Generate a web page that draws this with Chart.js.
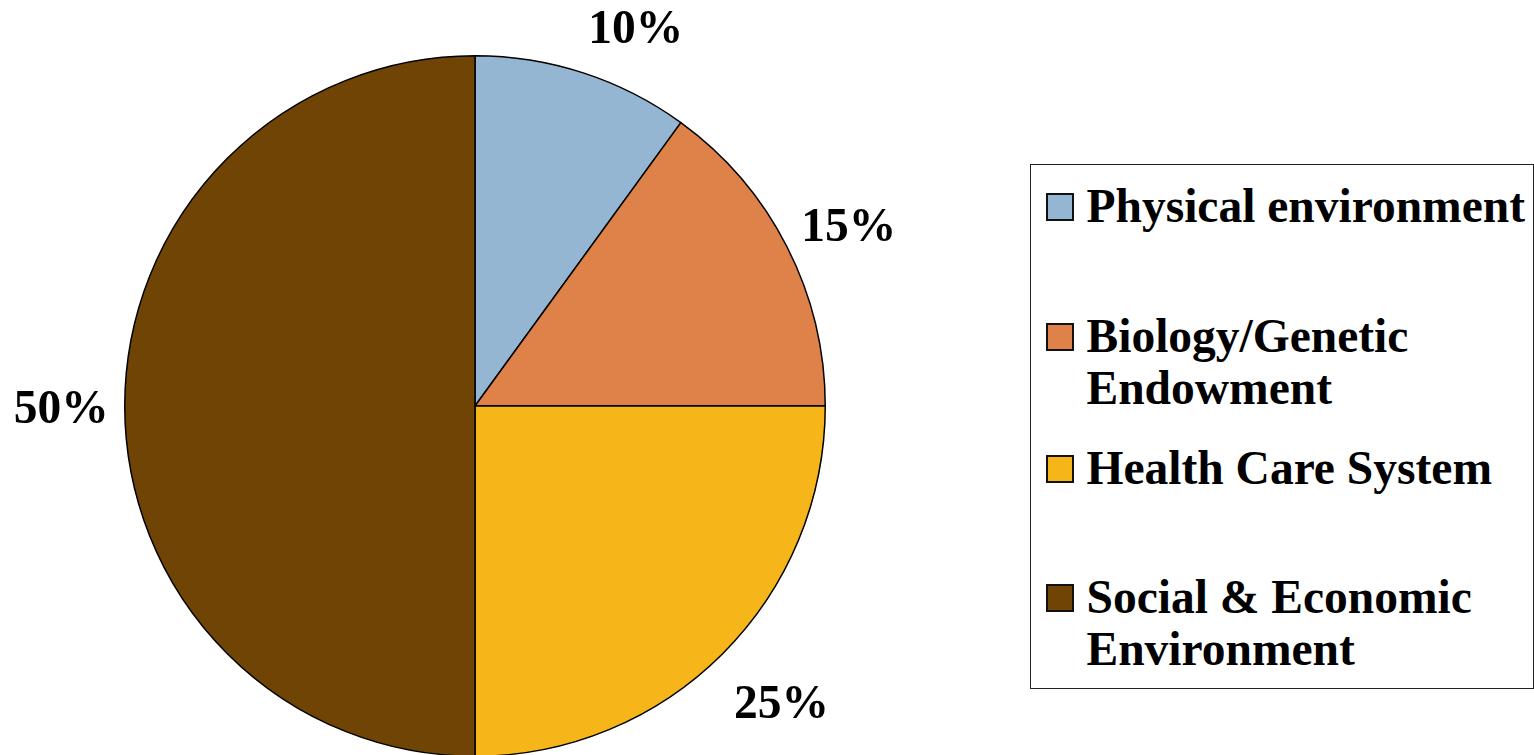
<!DOCTYPE html>
<html>
<head>
<meta charset="utf-8">
<script src="https://cdn.jsdelivr.net/npm/chart.js@4.4.1/dist/chart.umd.min.js"></script>
<style>
  html, body { margin: 0; padding: 0; background: #fff; overflow: hidden; width: 1534px; height: 755px; }
  #wrap { position: absolute; left: 0; top: 0; width: 950px; height: 770px; }
  #legend { position: absolute; left: 1030px; top: 164px; width: 504px; height: 525px; box-sizing: border-box; border: 1.5px solid #222; background: #fff; }
  .lg-sq { position: absolute; width: 28px; height: 28px; box-sizing: border-box; border: 2px solid #111; }
  .lg-tx { position: absolute; font-family: "Liberation Serif", "Times New Roman", serif; font-weight: bold; font-size: 47.5px; line-height: 52px; color: #000; white-space: nowrap; }
</style>
</head>
<body>
<div id="wrap"><canvas id="c" width="950" height="770"></canvas></div>
<div id="legend"></div>
<script>
// ---- data ----
const categories = ["Physical environment", "Biology/Genetic Endowment", "Health Care System", "Social & Economic Environment"];
const legendLines = [["Physical environment"], ["Biology/Genetic", "Endowment"], ["Health Care System"], ["Social & Economic", "Environment"]];
const values = [10, 15, 25, 50];
const valueLabels = ["10%", "15%", "25%", "50%"];
const colors = ["#95B6D3", "#DE824A", "#F6B519", "#704405"];

// ---- outside labels plugin ----
const outsideLabels = {
  id: 'outsideLabels',
  afterDatasetsDraw(chart) {
    const ctx = chart.ctx;
    const meta = chart.getDatasetMeta(0);
    ctx.save();
    ctx.font = 'bold 47.5px "Liberation Serif", "Times New Roman", serif';
    ctx.fillStyle = '#000';
    ctx.textAlign = 'center';
    ctx.textBaseline = 'alphabetic';
    const gapX = 16, gapY = 24, s = 0.3, halfHTop = 25, halfHBottom = 43, capH = 33;
    meta.data.forEach((arc, i) => {
      const p = arc.getProps(['x', 'y', 'startAngle', 'endAngle', 'outerRadius'], true);
      const mid = (p.startAngle + p.endAngle) / 2;
      const dx = Math.cos(mid), dy = Math.sin(mid);
      const ax = p.x + dx * (p.outerRadius + gapX);
      const ay = p.y + dy * (p.outerRadius + gapY);
      const text = valueLabels[i];
      const w = ctx.measureText(text).width;
      const cl = v => Math.max(-1, Math.min(1, v));
      const cx = ax + (w / 2) * cl(dx / s);
      const cy = ay + (dy < 0 ? halfHTop : halfHBottom) * dy;
      ctx.fillText(text, cx, cy + capH / 2);
    });
    ctx.restore();
  }
};

new Chart(document.getElementById('c'), {
  type: 'pie',
  data: {
    labels: categories,
    datasets: [{
      data: values,
      backgroundColor: colors,
      borderColor: '#000',
      borderWidth: 1.5
    }]
  },
  options: {
    responsive: false,
    animation: false,
    devicePixelRatio: 1,
    layout: { padding: { left: 124, right: 124, top: 55, bottom: 13 } },
    plugins: { legend: { display: false }, tooltip: { enabled: false } }
  },
  plugins: [outsideLabels]
});

// ---- legend (HTML) ----
const legendBaselines = [222, 352, 484, 613];
const legendEl = document.getElementById('legend');
legendLines.forEach((lines, i) => {
  const sq = document.createElement('div');
  sq.className = 'lg-sq';
  sq.style.background = colors[i];
  sq.style.left = (1046 - 1031.5) + 'px';
  sq.style.top = (legendBaselines[i] - 29 - 165.5) + 'px';
  legendEl.appendChild(sq);
  const tx = document.createElement('div');
  tx.className = 'lg-tx';
  tx.style.left = (1087 - 1031.5) + 'px';
  tx.style.top = (legendBaselines[i] - 42 - 165.5) + 'px';
  tx.innerHTML = lines.map(l => l.replace(/&/g, '&amp;')).join('<br>');
  legendEl.appendChild(tx);
});
</script>
</body>
</html>
